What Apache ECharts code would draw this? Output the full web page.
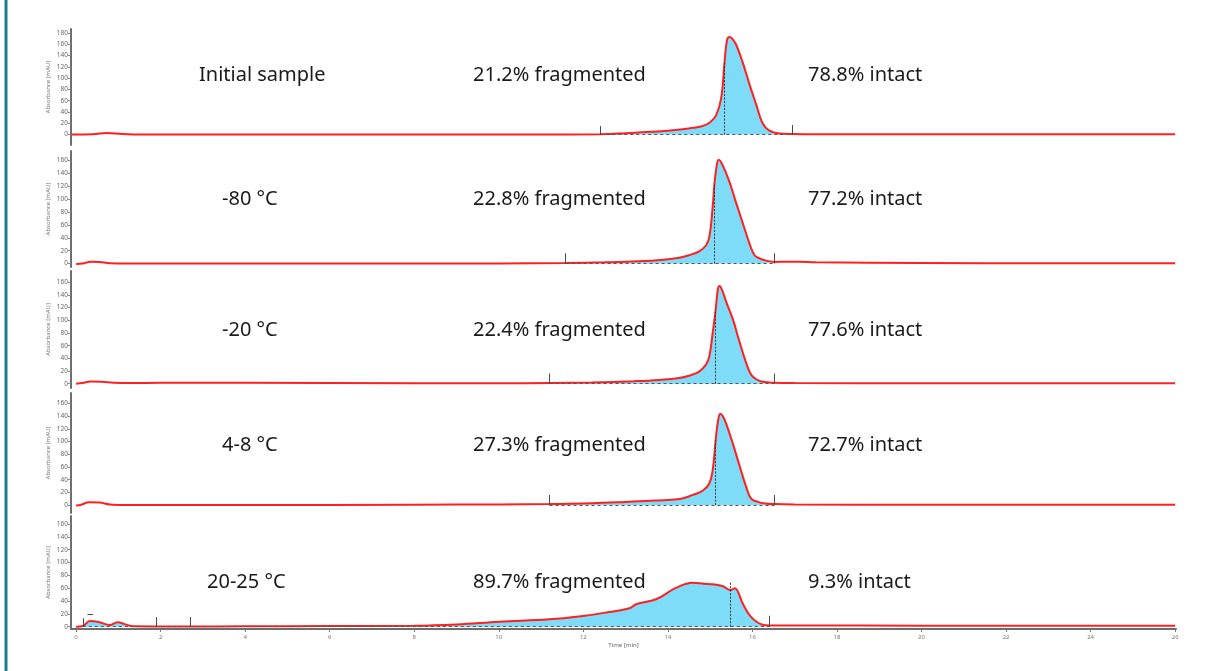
<!DOCTYPE html>
<html>
<head>
<meta charset="utf-8">
<script src="https://cdn.jsdelivr.net/npm/echarts@6/dist/echarts.min.js"></script>
<style>
  html, body { margin: 0; padding: 0; background: #fff; }
  #chart { width: 1210px; height: 671px; }
</style>
</head>
<body>
<div id="chart"></div>
<script>
// 样品标签
const sampleLabels = ['Initial sample', '-80 °C', '-20 °C', '4-8 °C', '20-25 °C']
const fragLabels = ['21.2% fragmented', '22.8% fragmented', '22.4% fragmented', '27.3% fragmented', '89.7% fragmented']
const intactLabels = ['78.8% intact', '77.2% intact', '77.6% intact', '72.7% intact', '9.3% intact']

// 色谱数据 - 时间 [min] / 吸光度 [mAU]
const timeInitial = [-0.1, 0.4, 0.72, 1.1, 1.6, 3, 6, 9, 11, 12.4, 13, 13.6, 14.0, 14.35, 14.6, 14.83, 15.0, 15.14, 15.26, 15.34, 15.40, 15.46, 15.52, 15.61, 15.77, 15.93, 16.09, 16.24, 16.40, 16.64, 16.94, 17.5, 20, 23, 26]
const absInitial = [0, 0.5, 3, 1, 0, 0, 0, 0, 0.3, 0.8, 2.5, 5, 7, 9.5, 12, 15.5, 22, 34, 64, 128, 168, 173, 170, 160, 128, 89, 53, 20, 7, 2, 1, 0.5, 0.5, 0.5, 0.5]

const timeM80 = [0, 0.15, 0.35, 0.55, 0.8, 1.2, 2, 4, 8, 10, 11.58, 12.5, 13.3, 13.9, 14.27, 14.5, 14.74, 14.9, 14.98, 15.06, 15.10, 15.14, 15.2, 15.3, 15.46, 15.61, 15.77, 15.93, 16.05, 16.17, 16.3, 16.52, 16.8, 17.1, 17.5, 20, 23, 26]
const absM80 = [-0.5, 0, 3, 2.5, 0.5, 0, 0, 0, 0, 0.3, 1, 2, 3.5, 6, 9, 13, 19, 28, 41, 88, 123, 145, 161, 152, 126, 95, 63, 31, 13, 8, 5, 2.5, 3, 3, 2, 1, 0.5, 0.5]

const timeM20 = [0, 0.15, 0.35, 0.6, 0.9, 1.3, 2, 4, 8, 10, 11.2, 12.2, 13.2, 13.8, 14.27, 14.5, 14.74, 14.9, 14.98, 15.06, 15.13, 15.18, 15.22, 15.28, 15.38, 15.54, 15.69, 15.85, 15.97, 16.09, 16.25, 16.52, 17, 20, 23, 26]
const absM20 = [0, 1, 3.5, 3, 1.5, 1, 1.5, 1.5, 0.5, 0.5, 1, 2, 4, 6, 9, 12.6, 19, 30, 43, 80, 117, 148, 154, 148, 129, 101, 67, 33, 14, 7, 3, 1.5, 1, 0.5, 0.5, 0.5]

const time4C = [0, 0.12, 0.3, 0.55, 0.8, 1.2, 2, 4, 8, 10, 11.2, 12.2, 13, 13.7, 14.28, 14.59, 14.83, 14.98, 15.06, 15.13, 15.18, 15.24, 15.3, 15.38, 15.54, 15.69, 15.85, 15.97, 16.13, 16.3, 16.52, 17, 20, 23, 26]
const abs4C = [-0.5, 0.5, 4.5, 4, 1, 0, 0, 0, 0.5, 1, 1.5, 3, 5, 7, 9.4, 16, 23, 34, 55, 102, 130, 144, 140, 128, 96, 63, 29, 10, 5, 2.5, 1.5, 1, 0.5, 0.5, 0.5]

const timeRT = [0, 0.16, 0.33, 0.55, 0.8, 0.98, 1.15, 1.35, 1.89, 2.71, 4, 6, 8, 9, 10.02, 11.2, 11.99, 12.54, 13.09, 13.25, 13.72, 14.2, 14.59, 14.85, 15.06, 15.3, 15.48, 15.58, 15.77, 15.93, 16.09, 16.24, 16.4, 17, 20, 23, 26]
const absRT = [0, 1, 9, 7, 2.6, 7, 4, 0.5, 0.3, 0.3, 0.5, 1, 1.5, 3.5, 7.8, 11.5, 16.7, 22, 28.6, 35, 42.7, 60.8, 68.5, 67, 66, 63, 57, 60, 36, 18, 8, 3, 2, 2, 1.5, 1.5, 1.5]

const traceTimes = [timeInitial, timeM80, timeM20, time4C, timeRT]
const traceAbs = [absInitial, absM80, absM20, abs4C, absRT]

// 积分区间 / 分割点
const fillRanges = [[[12.4, 16.94]], [[11.58, 16.52]], [[11.2, 16.52]], [[11.2, 16.52]], [[0.16, 1.35], [2.71, 16.4]]]
const cutTimes = [[12.4, 16.94], [11.58, 16.52], [11.2, 16.52], [11.2, 16.52], [0.16, 1.89, 2.71, 16.4]]
const cutHeights = [[15, 17], [16, 16], [16, 16], [16, 16], [13, 15, 15, 17]]
const splitTimes = [15.34, 15.10, 15.13, 15.13, 15.48]
const splitTops = [130, 125, 117, 103, 70]

// y轴刻度
const yTicksFirst = [0, 20, 40, 60, 80, 100, 120, 140, 160, 180]
const yTicksOther = [0, 20, 40, 60, 80, 100, 120, 140, 160]
const xTicks = [0, 2, 4, 6, 8, 10, 12, 14, 16, 18, 20, 22, 24, 26]

// 面板布局
const panelTop = [29, 151, 271, 393, 516]
const panelHeight = [116, 116, 117, 120, 113]
const panelMin = [-18.4, -5.3, -6.8, -12.5, -3.6]
const panelMax = [187, 174.6, 177.8, 176.5, 172.4]
const labelY = [75, 199, 330, 445, 582]
const sampleX = [199, 222, 222, 222, 207]

const myChart = echarts.init(document.querySelector('#chart'))

const grids = [], xAxes = [], yAxes = [], series = [], graphics = []

graphics.push({ type: 'rect', shape: { x: 4.5, y: 0, width: 3, height: 671 }, style: { fill: '#17808c' } })

for (let i = 0; i < 5; i++) {
    const last = i === 4
    grids.push({ left: 71, width: 1105, top: panelTop[i], height: panelHeight[i] })
    xAxes.push({
        gridIndex: i,
        type: 'value',
        min: -0.12,
        max: 26.02,
        show: last,
        name: 'Time [min]',
        nameLocation: 'middle',
        nameGap: 13,
        nameMoveOverlap: false,
        nameTextStyle: { fontSize: 6, color: '#666', fontFamily: 'Noto Sans' },
        axisLine: { show: last, onZero: false, lineStyle: { color: '#6e6e6e', width: 2 } },
        axisTick: { show: last, length: 3, customValues: xTicks, lineStyle: { color: '#777' } },
        axisLabel: { show: last, customValues: xTicks, fontSize: 6, color: '#777', margin: 5, fontFamily: 'Noto Sans' },
        splitLine: { show: false }
    })
    const yt = i === 0 ? yTicksFirst : yTicksOther
    yAxes.push({
        gridIndex: i,
        type: 'value',
        min: panelMin[i],
        max: panelMax[i],
        name: 'Absorbance [mAU]',
        nameLocation: 'middle',
        nameGap: 20,
        nameMoveOverlap: false,
        nameTextStyle: { fontSize: 6, color: '#777', fontFamily: 'Noto Sans' },
        axisLine: { show: true, onZero: false, lineStyle: { color: '#6e6e6e', width: 2 } },
        axisTick: { show: true, length: 3, customValues: yt, lineStyle: { color: '#888' } },
        axisLabel: { customValues: yt, fontSize: 6.5, color: '#666', margin: 3, fontFamily: 'Noto Sans' },
        splitLine: { show: false }
    })

    const pts = traceTimes[i].map((t, k) => [t, traceAbs[i][k]])

    // 积分面积 (青色)
    fillRanges[i].forEach(r => {
        series.push({
            type: 'line',
            xAxisIndex: i,
            yAxisIndex: i,
            data: pts.filter(p => p[0] >= r[0] && p[0] <= r[1]),
            smooth: 0.4,
            symbol: 'none',
            lineStyle: { width: 0 },
            areaStyle: { color: '#7fdcf9', opacity: 1 },
            z: 1,
            silent: true
        })
    })

    // 标记线
    const marks = []
    marks.push([
        { coord: [cutTimes[i][0], 0], lineStyle: { type: [3, 3], color: '#555', width: 1 } },
        { coord: [cutTimes[i][cutTimes[i].length - 1], 0] }
    ])
    cutTimes[i].forEach((t, k) => {
        marks.push([{ coord: [t, 0] }, { coord: [t, cutHeights[i][k]] }])
    })
    marks.push([
        { coord: [splitTimes[i], 0], lineStyle: { type: [2, 1.5], color: '#333', width: 1 } },
        { coord: [splitTimes[i], splitTops[i]] }
    ])
    if (last) {
        marks.push([{ coord: [0.27, 20] }, { coord: [0.4, 20] }])
    }

    series.push({
        type: 'line',
        xAxisIndex: i,
        yAxisIndex: i,
        data: pts,
        smooth: 0.4,
        symbol: 'none',
        lineStyle: { color: '#ff1f1f', width: 2 },
        z: 3,
        silent: true,
        markLine: {
            silent: true,
            symbol: ['none', 'none'],
            label: { show: false },
            lineStyle: { color: '#4a4a4a', width: 1, type: 'solid' },
            data: marks,
            z: 4
        }
    })

    const font = '20px "Noto Sans"'
    graphics.push(
        { type: 'text', x: sampleX[i], y: labelY[i], style: { text: sampleLabels[i], font: font, fill: '#1a1a1a', verticalAlign: 'middle', textVerticalAlign: 'middle' } },
        { type: 'text', x: 473, y: labelY[i], style: { text: fragLabels[i], font: font, fill: '#1a1a1a', verticalAlign: 'middle', textVerticalAlign: 'middle' } },
        { type: 'text', x: 808, y: labelY[i], style: { text: intactLabels[i], font: font, fill: '#1a1a1a', verticalAlign: 'middle', textVerticalAlign: 'middle' } }
    )
}

const option = {
    animation: false,
    backgroundColor: '#fff',
    grid: grids,
    xAxis: xAxes,
    yAxis: yAxes,
    series: series,
    graphic: graphics
}
myChart.setOption(option)
</script>
</body>
</html>
